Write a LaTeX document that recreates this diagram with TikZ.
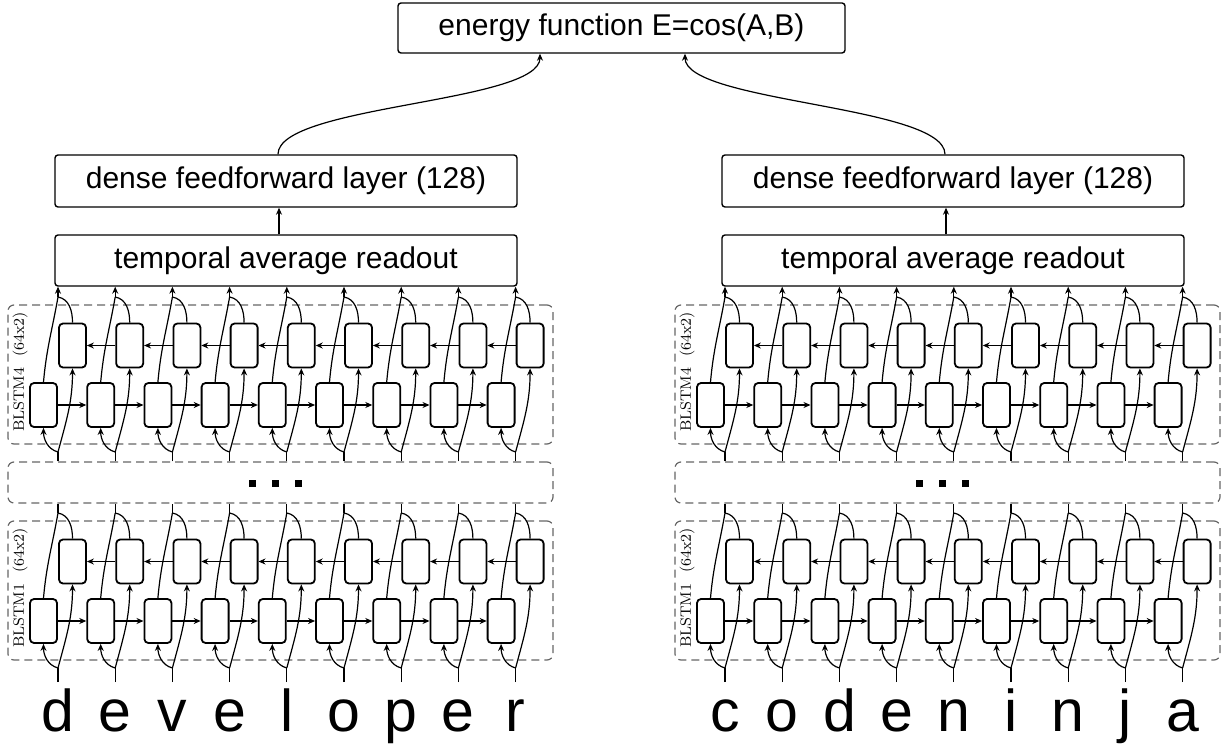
\documentclass[tikz,border=0pt]{standalone}
\usepackage{fontspec}
\usepackage{tikz}
\usetikzlibrary{arrows.meta,positioning}
\newfontfamily\helv{Liberation Sans}
\def\colsep{57.2}

\begin{document}
\begin{tikzpicture}[x=0.5pt,y=0.5pt,>={Stealth[length=3.5pt,width=3pt]},line width=0.6pt]
		\tikzstyle{cell}=[draw,rounded corners=2pt,line width=0.9pt,minimum width=13.5pt,minimum height=22pt,inner sep=0pt]
		\tikzstyle{layer}=[draw=black!60,dash pattern=on 4pt off 2.5pt,rounded corners=3pt,minimum width=272.5pt,inner sep=0pt]
		\tikzstyle{block}=[draw,rounded corners=1.5pt,line width=0.7pt,font=\helv\fontsize{15}{18}\selectfont,inner sep=0pt]
		\tikzstyle{letter}=[font=\helv\fontsize{29.5}{34}\selectfont,inner sep=0pt,anchor=base]
		\tikzstyle{tag}=[rotate=90,font=\fontsize{7.5}{9}\selectfont,inner sep=0pt]
		\tikzstyle{dot}=[fill,minimum size=3.5pt,inner sep=0pt]
		
		\useasboundingbox (0,0) rectangle (1226,751);
		
		% The energy function on top
		\node[block,minimum width=223.5pt,minimum height=25pt] (E) at (621.5,723) {energy function E=cos(A,B)};
		
		% Draw both towers
		\foreach \side/\ox in {A/0,B/667}{
			% readout and dense layer
			\node[block,minimum width=231pt,minimum height=25.5pt] (R\side) at (286+\ox,490.5) {temporal average readout};
			\node[block,minimum width=231pt,minimum height=26pt] (H\side) at (286+\ox,570) {dense feedforward layer (128)};
			% the box for the skipped layers
			\node[layer,minimum height=20.5pt] (D\side) at (280.5+\ox,268.5) {};
			\foreach \k in {-1,0,1}
			\node[dot] at (275+\ox+23*\k,268) {};
			% the BLSTM layers
			\foreach \ly/\ty in {1/230,4/446}{
				\node[layer,minimum height=69.5pt] (L\side\ly) at (280.5+\ox,\ty-69.5) {};
				\node[tag] at (20+\ox,\ty-67) {BLSTM\ly\ \ (64x2)};
				\foreach \col in {1,...,9}{
					\pgfmathsetmacro\cx{58+\colsep*(\col-1)+\ox}
					\node[cell] (F\side\ly-\col) at (\cx-14.5,\ty-100) {};
					\node[cell] (B\side\ly-\col) at (\cx+14.5,\ty-40.5) {};
					\coordinate (S\side\ly-\col) at (\cx,\ty-147);
					\coordinate (O\side\ly-\col) at (\cx,\ty+8);
				}
			}
		}
		
		% Draw the input characters
		\foreach \col/\ch in {1/d,2/e,3/v,4/e,5/l,6/o,7/p,8/e,9/r}{
			\pgfmathsetmacro\cx{58+\colsep*(\col-1)}
			\node[letter] (CA-\col) at (\cx,20) {\ch};
			\coordinate (IA-\col) at (\cx,69);
		}
		\foreach \col/\ch in {1/c,2/o,3/d,4/e,5/n,6/i,7/n,8/j,9/a}{
			\pgfmathsetmacro\cx{58+\colsep*(\col-1)+667}
			\node[letter] (CB-\col) at (\cx,20) {\ch};
			\coordinate (IB-\col) at (\cx,69);
		}
		
		% Connect the cells of every layer
		\foreach \side in {A,B}{
			\foreach \ly in {1,4}{
				\foreach \col in {1,...,9}{
					\draw[->] (S\side\ly-\col) to[out=165,in=-90] (F\side\ly-\col.south);
					\draw[->] (S\side\ly-\col) to[out=75,in=-90] (B\side\ly-\col.south);
					\draw (F\side\ly-\col.north) to[out=85,in=-100] (O\side\ly-\col);
					\draw (B\side\ly-\col.north) to[out=90,in=-10] (O\side\ly-\col);
				}
				\foreach \col in {1,...,8}{
					\pgfmathtruncatemacro\nxt{\col+1}
					\draw[->] (F\side\ly-\col) -- (F\side\ly-\nxt);
					\draw[->] (B\side\ly-\nxt) -- (B\side\ly-\col);
				}
			}
			% Connect the layers with each other
			\foreach \col in {1,...,9}{
				\draw (I\side-\col) -- (S\side1-\col);
				\draw (O\side1-\col) -- (O\side1-\col |- D\side.south);
				\draw (S\side4-\col |- D\side.north) -- (S\side4-\col);
				\draw[->] (O\side4-\col) -- (O\side4-\col |- R\side.south);
			}
			\draw[->] ([xshift=-3.5pt]R\side.north) -- ([xshift=-3.5pt]H\side.south);
		}
		
		% Feed both towers into the energy function
		\draw[->] ([xshift=-4pt]HA.north) to[out=90,in=-90,looseness=0.45] ([xshift=-40.75pt]E.south);
		\draw[->] ([xshift=-4pt]HB.north) to[out=90,in=-90,looseness=0.45] ([xshift=31.75pt]E.south);
	\end{tikzpicture}
\end{document}
